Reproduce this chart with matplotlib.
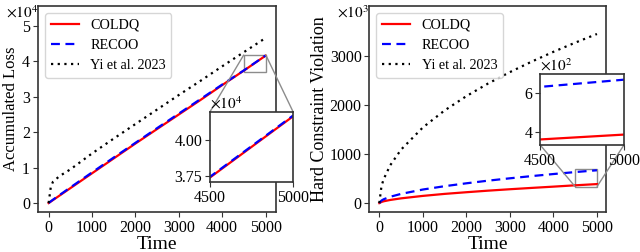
import numpy as np
import matplotlib
matplotlib.use("Agg")
import matplotlib.pyplot as plt
from matplotlib.ticker import FuncFormatter
from mpl_toolkits.axes_grid1.inset_locator import mark_inset

plt.rcParams['font.family'] = ['Liberation Serif', 'DejaVu Serif']
plt.rcParams['mathtext.fontset'] = 'stix'

# Data
time = [0, 50, 100, 250, 500, 1000, 1500, 2000, 2500, 3000, 3500, 4000, 4500, 5000]

loss_coldq = [0, 420, 840, 2100, 4200, 8400, 12600, 16800, 20900, 25000, 29100, 33300, 37400, 41600]
loss_recoo = [0, 500, 950, 2250, 4400, 8650, 12850, 17000, 21150, 25250, 29350, 33450, 37450, 41650]
loss_yi = [0, 4500, 6000, 7600, 9500, 14000, 18200, 22300, 26400, 30500, 34500, 38600, 42600, 46600]

viol_coldq = [0, 24, 37, 64, 97, 147, 188, 222, 254, 283, 310, 336, 363, 388]
viol_recoo = [0, 52, 78, 129, 188, 277, 345, 404, 458, 506, 551, 593, 633, 670]
viol_yi = [0, 345, 488, 771, 1091, 1543, 1890, 2182, 2440, 2672, 2886, 3086, 3273, 3450]

labels = ['COLDQ', 'RECOO', 'Yi et al. 2023']

fig = plt.figure(figsize=(6.4, 2.52), dpi=100)
ax1 = fig.add_axes([0.059, 0.159, 0.373, 0.817])
ax2 = fig.add_axes([0.577, 0.159, 0.370, 0.817])

TICK = 11.5


def style(ax, fs=TICK):
    for s in ax.spines.values():
        s.set_color('#333333')
        s.set_linewidth(1.2)
    ax.tick_params(labelsize=fs, length=3.5, color='#333333', pad=2)


def draw(ax, a, b, c):
    ax.plot(time, a, color='red', lw=1.6, label=labels[0])
    ax.plot(time, b, color='blue', lw=1.6, ls=(0, (4, 2.5)), label=labels[1])
    ax.plot(time, c, color='black', lw=1.6, ls=(0, (1, 2)), label=labels[2])


# ---- left: accumulated loss
draw(ax1, loss_coldq, loss_recoo, loss_yi)
ax1.set_xlim(-250, 5250)
ax1.set_ylim(-2500, 55600)
ax1.set_yticks([0, 10000, 20000, 30000, 40000, 50000])
ax1.yaxis.set_major_formatter(FuncFormatter(lambda v, p: f"{v / 1e4:g}"))
ax1.set_xticks([0, 1000, 2000, 3000, 4000, 5000])
ax1.set_xlabel('Time', fontsize=14, labelpad=0)
ax1.set_ylabel('Accumulated Loss', fontsize=12, labelpad=2)
ax1.legend(loc='upper left', fontsize=10.2, handlelength=2.0, borderaxespad=0.5)
style(ax1)
fig.text(0.009, 1 - 18 / 252, r'$\times10^4$', fontsize=11, va='baseline')

in1 = fig.add_axes([0.328, 0.278, 0.130, 0.278])
draw(in1, loss_coldq, loss_recoo, loss_yi)
in1.set_xlim(4500, 5000)
in1.set_ylim(37100, 41900)
in1.set_xticks([4500, 5000])
in1.set_yticks([37500, 40000])
in1.yaxis.set_major_formatter(FuncFormatter(lambda v, p: f"{v / 1e4:.2f}"))
style(in1)
in1.text(0.0, 1.05, r'$\times10^4$', transform=in1.transAxes, fontsize=11)
mark_inset(ax1, in1, loc1=2, loc2=1, fc='none', ec='0.55', lw=1)

# ---- right: hard constraint violation
draw(ax2, viol_coldq, viol_recoo, viol_yi)
ax2.set_xlim(-230, 5210)
ax2.set_ylim(-180, 4020)
ax2.set_yticks([0, 1000, 2000, 3000])
ax2.set_xticks([0, 1000, 2000, 3000, 4000, 5000])
ax2.set_xlabel('Time', fontsize=14, labelpad=0)
ax2.set_ylabel('Hard Constraint Violation', fontsize=13, labelpad=1)
ax2.legend(loc='upper left', fontsize=10.2, handlelength=2.0, borderaxespad=0.5)
style(ax2)
fig.text(0.527, 1 - 18 / 252, r'$\times10^3$', fontsize=11, va='baseline')

in2 = fig.add_axes([0.844, 0.425, 0.131, 0.282])
draw(in2, viol_coldq, viol_recoo, viol_yi)
in2.set_xlim(4500, 5000)
in2.set_ylim(335, 700)
in2.set_xticks([4500, 5000])
in2.set_yticks([400, 600])
in2.yaxis.set_major_formatter(FuncFormatter(lambda v, p: f"{v / 100:g}"))
style(in2)
in2.text(0.0, 1.05, r'$\times10^2$', transform=in2.transAxes, fontsize=11)
mark_inset(ax2, in2, loc1=3, loc2=4, fc='none', ec='0.55', lw=1)

fig.savefig('out.png', dpi=100)
